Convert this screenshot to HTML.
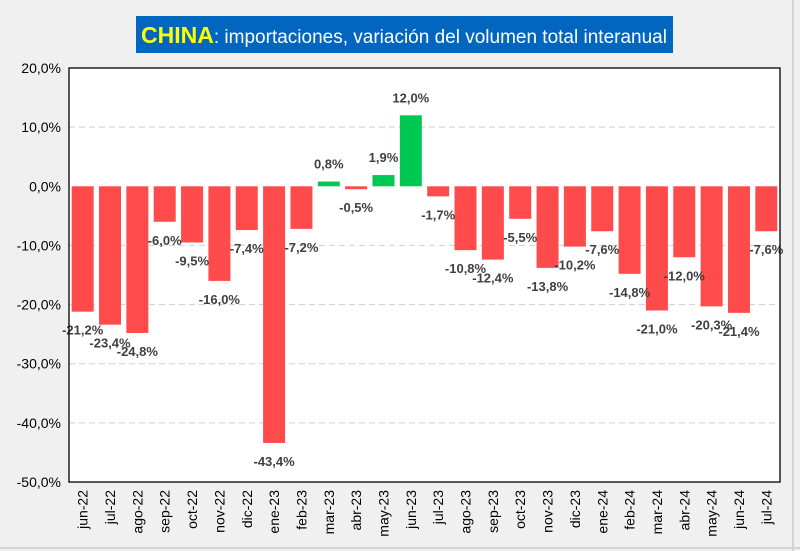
<!DOCTYPE html>
<html><head><meta charset="utf-8"><style>
html,body{margin:0;padding:0;background:#f0f0f0;}
svg{display:block;font-family:"Liberation Sans",Arial,sans-serif;}
</style></head><body>
<svg id="chart" width="800" height="551" viewBox="0 0 800 551">
<rect x="0" y="0" width="800" height="551" fill="#f0f0f0"/>
<line x1="793" y1="0" x2="793" y2="551" stroke="#d4d4d4" stroke-width="2"/>
<line x1="0" y1="548" x2="800" y2="548" stroke="#d4d4d4" stroke-width="2"/>
<rect x="136" y="16" width="537" height="37" fill="#0066c0"/>
<text x="404" y="43" text-anchor="middle" font-size="19" fill="#fff"><tspan fill="#ffff00" font-weight="bold" font-size="23">CHINA</tspan>: importaciones, variación del volumen total interanual</text>
<rect x="69" y="68" width="711" height="414" fill="#fff"/>
<g id="grid"></g><g id="bars"></g><g id="labels"></g><g id="yticks"></g><g id="xticks"></g>
<rect x="69" y="68" width="711" height="414" fill="none" stroke="#000" stroke-width="1.3"/>
</svg>
<script>
const categories=["jun-22","jul-22","ago-22","sep-22","oct-22","nov-22","dic-22","ene-23","feb-23","mar-23","abr-23","may-23","jun-23","jul-23","ago-23","sep-23","oct-23","nov-23","dic-23","ene-24","feb-24","mar-24","abr-24","may-24","jun-24","jul-24"];
const values=[-21.2,-23.4,-24.8,-6.0,-9.5,-16.0,-7.4,-43.4,-7.2,0.8,-0.5,1.9,12.0,-1.7,-10.8,-12.4,-5.5,-13.8,-10.2,-7.6,-14.8,-21.0,-12.0,-20.3,-21.4,-7.6];
const yTicks=[20,10,0,-10,-20,-30,-40,-50];
const NS="http://www.w3.org/2000/svg";
const L=69,R=780,T=68,B=482,ymax=20,ymin=-50;
const y=v=>T+(ymax-v)/(ymax-ymin)*(B-T);
const cw=(R-L)/categories.length;
const x=i=>L+i*cw;
const fmt=v=>v.toFixed(1).replace('.',',')+'%';
function mk(tag,attrs,parent){const e=document.createElementNS(NS,tag);for(const k in attrs)e.setAttribute(k,attrs[k]);document.getElementById(parent).appendChild(e);return e;}
yTicks.forEach(t=>{
  if(t!==ymax&&t!==ymin&&t!==0){
    const g=mk('line',{x1:L,x2:R,y1:y(t),y2:y(t),stroke:'#d0d0d0','stroke-dasharray':'6,4'},'grid');
    
    
  }
  const tx=mk('text',{x:L-8,y:y(t)+5,'text-anchor':'end','font-size':'14',fill:'#000'},'yticks');
  tx.textContent=fmt(t);
  
  
});
const bw=22;
categories.forEach((c,i)=>{
  const v=values[i];
  const cx=x(i)+cw/2;
  const y0=y(0),y1=y(v);
  const r=mk('rect',{x:cx-bw/2,y:Math.min(y0,y1),width:bw,height:Math.max(Math.abs(y1-y0),1),fill:v>=0?'#00c853':'#ff4b4b'},'bars');
  
  
  const lb=mk('text',{x:cx,y:v>=0?y1-13:y1+23,'text-anchor':'middle','font-size':'13','font-weight':'bold',fill:'#404040'},'labels');
  lb.textContent=fmt(v);
  
  
  const xl=mk('text',{x:0,y:0,'text-anchor':'end','font-size':'14',fill:'#000',transform:`translate(${cx+5},${B+8}) rotate(-90)`},'xticks');
  xl.textContent=c;
  
  
});
</script>
</body></html>
